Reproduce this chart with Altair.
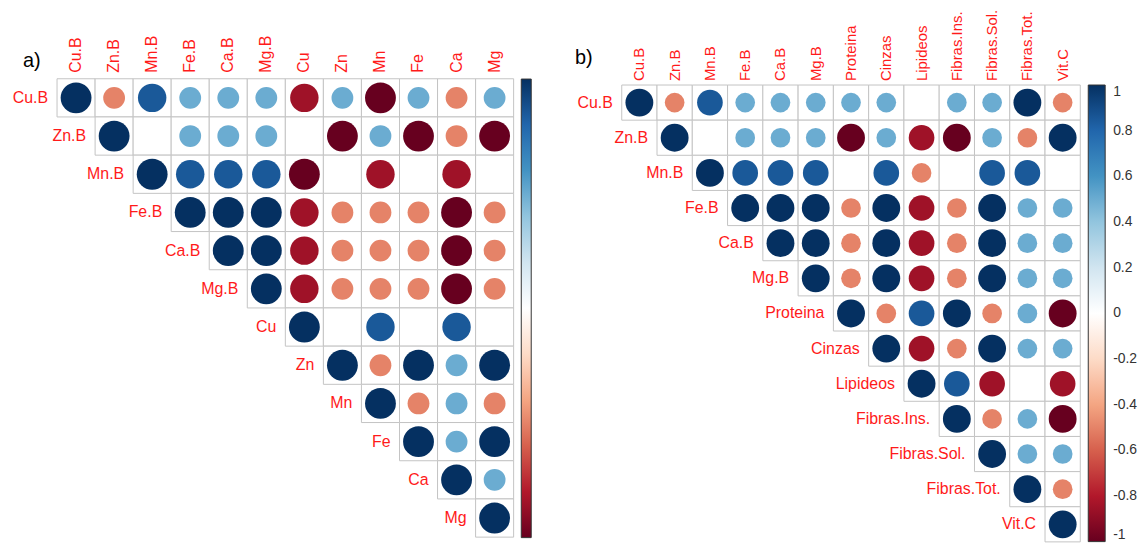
import altair as alt
import pandas as pd

# ---------------- data ----------------
vars_a = ["Cu.B", "Zn.B", "Mn.B", "Fe.B", "Ca.B", "Mg.B", "Cu", "Zn", "Mn", "Fe", "Ca", "Mg"]
# upper triangle, each row starts at its diagonal; None = blank (not significant)
rows_a = [
    [1, -0.5, 0.85, 0.5, 0.5, 0.5, -0.85, 0.5, -1, 0.5, -0.5, 0.5],
    [1, None, 0.5, 0.5, 0.5, None, -1, 0.5, -1, -0.5, -1],
    [1, 0.85, 0.85, 0.85, -1, None, -0.85, None, -0.85, None],
    [1, 1, 1, -0.85, -0.5, -0.5, -0.5, -1, -0.5],
    [1, 1, -0.85, -0.5, -0.5, -0.5, -1, -0.5],
    [1, -0.85, -0.5, -0.5, -0.5, -1, -0.5],
    [1, None, 0.85, None, 0.85, None],
    [1, -0.5, 1, 0.5, 1],
    [1, -0.5, 0.5, -0.5],
    [1, 0.5, 1],
    [1, 0.5],
    [1],
]

vars_b = ["Cu.B", "Zn.B", "Mn.B", "Fe.B", "Ca.B", "Mg.B", "Proteina", "Cinzas",
          "Lipideos", "Fibras.Ins.", "Fibras.Sol.", "Fibras.Tot.", "Vit.C"]
rows_b = [
    [1, -0.5, 0.85, 0.5, 0.5, 0.5, 0.5, 0.5, None, 0.5, 0.5, 1, -0.5],
    [1, None, 0.5, 0.5, 0.5, -1, 0.5, -0.85, -1, 0.5, -0.5, 1],
    [1, 0.85, 0.85, 0.85, None, 0.85, -0.5, None, 0.85, 0.85, None],
    [1, 1, 1, -0.5, 1, -0.85, -0.5, 1, 0.5, 0.5],
    [1, 1, -0.5, 1, -0.85, -0.5, 1, 0.5, 0.5],
    [1, -0.5, 1, -0.85, -0.5, 1, 0.5, 0.5],
    [1, -0.5, 0.85, 1, -0.5, 0.5, -1],
    [1, -0.85, -0.5, 1, 0.5, 0.5],
    [1, 0.85, -0.85, None, -0.85],
    [1, -0.5, 0.5, -1],
    [1, 0.5, 0.5],
    [1, -0.5],
    [1],
]

panel_titles = ["a)", "b)"]
palette_stops = [-1, -0.8, -0.6, -0.4, -0.2, 0, 0.2, 0.4, 0.6, 0.8, 1]
palette_colors = ["#67001F", "#B2182B", "#D6604D", "#F4A582", "#FDDBC7", "#FFFFFF",
                  "#D1E5F0", "#92C5DE", "#4393C3", "#2166AC", "#053061"]
colorbar_ticks = [1, 0.8, 0.6, 0.4, 0.2, 0, -0.2, -0.4, -0.6, -0.8, -1]

LABEL_RED = "#FF1A1A"
GRID = "#C4C4C4"
FONT = "Liberation Sans"


def long_table(names, rows):
    recs = []
    for i, row in enumerate(rows):
        for k, v in enumerate(row):
            j = i + k
            recs.append({"row": i, "col": j, "rname": names[i], "cname": names[j], "r": v})
    return pd.DataFrame(recs)


def panel(names, rows, title, width, height, xdom, ydom, max_area, font_size,
          col_font_size, col_gap, legend, title_dx, title_dy):
    cells = long_table(names, rows)
    labs = pd.DataFrame({"idx": list(range(len(names))), "name": names})
    xs = alt.Scale(domain=xdom, nice=False, zero=False)
    ys = alt.Scale(domain=ydom, nice=False, zero=False, reverse=True)

    base = alt.Chart(cells)
    grid = base.mark_rect(fill="white", stroke=GRID, strokeWidth=1).transform_calculate(
        c2="datum.col + 1", r2="datum.row + 1"
    ).encode(
        x=alt.X("col:Q", scale=xs, axis=None),
        x2="c2:Q",
        y=alt.Y("row:Q", scale=ys, axis=None),
        y2="r2:Q",
    )
    dots = base.mark_circle(opacity=1, strokeWidth=0).transform_filter(
        "isValid(datum.r)"
    ).transform_calculate(
        cx="datum.col + 0.5", cy="datum.row + 0.5", ar="abs(datum.r)"
    ).encode(
        x=alt.X("cx:Q", scale=xs, axis=None),
        y=alt.Y("cy:Q", scale=ys, axis=None),
        size=alt.Size("ar:Q", scale=alt.Scale(domain=[0, 1], range=[0, max_area]), legend=None),
        color=alt.Color("r:Q", scale=alt.Scale(domain=palette_stops, range=palette_colors,
                                               interpolate="rgb"),
                        legend=legend),
        tooltip=["rname:N", "cname:N", "r:Q"],
    )
    lbase = alt.Chart(labs)
    row_labels = lbase.mark_text(
        align="right", baseline="middle", dx=-9, color=LABEL_RED, fontSize=font_size, font=FONT
    ).transform_calculate(cy="datum.idx + 0.5").encode(
        x=alt.X("idx:Q", scale=xs, axis=None),
        y=alt.Y("cy:Q", scale=ys, axis=None),
        text="name:N",
    )
    col_labels = lbase.mark_text(
        angle=270, align="left", baseline="middle", color=LABEL_RED, fontSize=col_font_size,
        font=FONT, clip=True
    ).transform_calculate(cx="datum.idx + 0.5", ty=str(-col_gap)).encode(
        x=alt.X("cx:Q", scale=xs, axis=None),
        y=alt.Y("ty:Q", scale=ys, axis=None),
        text="name:N",
    )
    return alt.layer(grid, dots, row_labels, col_labels).properties(
        width=width, height=height,
        title=alt.TitleParams(title, anchor="start", frame="group", orient="top", offset=0,
                              dx=title_dx, dy=title_dy, fontSize=20, fontWeight="normal",
                              color="black", font=FONT, baseline="alphabetic"),
    )


legend_a = alt.Legend(
    orient="none", legendX=516, legendY=70, direction="vertical", title=None,
    gradientLength=461, gradientThickness=10, values=colorbar_ticks, labelExpr="''",
    gradientStrokeColor="#333333", gradientStrokeWidth=1, padding=0,
)
legend_b = alt.Legend(
    orient="none", legendX=534, legendY=76, direction="vertical", title=None,
    gradientLength=459, gradientThickness=17, values=colorbar_ticks,
    labelExpr="datum.value == 0 ? '0' : (datum.value < 0 ? '-' : '') + format(abs(datum.value), '~g')",
    labelFontSize=14, labelColor="#333333", labelOffset=8, labelOverlap=False, labelFont=FONT,
    gradientStrokeColor="#333333", gradientStrokeWidth=1, padding=0,
)

# panel a: grid 38.25 x 38.4 px cells
pa = panel(vars_a, rows_a, panel_titles[0], 552, 539,
           [-1.289, 13.142], [-1.815, 12.221], 962, 16, 16, 0.156, legend_a, 15, 78)
# panel b: grid 35.46 x 35.33 px cells
pb = panel(vars_b, rows_b, panel_titles[1], 584, 539,
           [-1.833, 14.636], [-2.151, 13.105], 784, 16, 15, 0.113, legend_b, 18, 75)

chart = alt.hconcat(pa, pb, spacing=0).resolve_scale(
    color="independent", size="independent", x="independent", y="independent"
).resolve_legend(color="independent", size="independent").properties(
    padding={"left": 0, "top": 0, "right": 0, "bottom": 0}
).configure(font=FONT).configure_view(stroke=None, strokeWidth=0)

chart.save("out.html", embed_options={"renderer": "svg", "actions": False})
